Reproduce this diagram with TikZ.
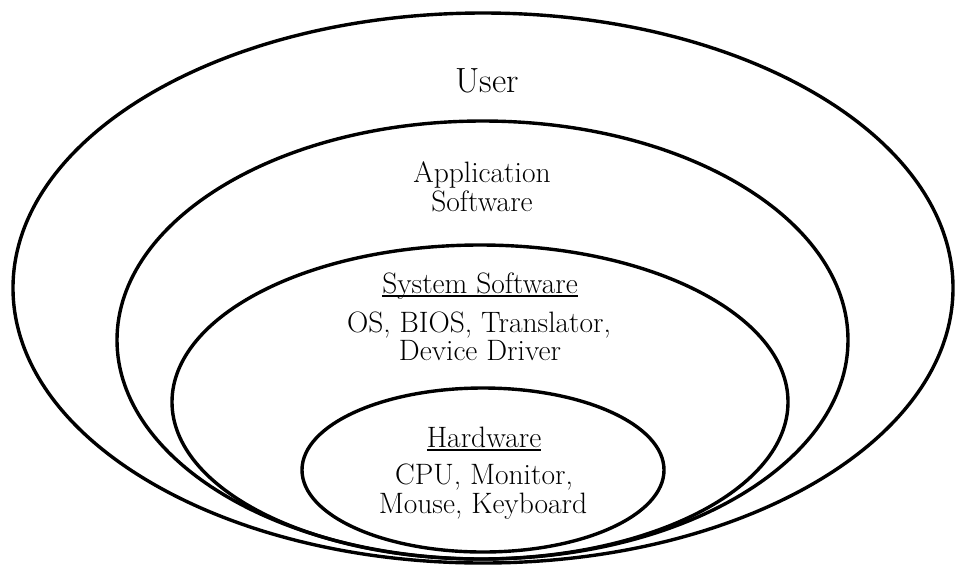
\documentclass[tikz,border=0pt]{standalone}
\newcommand{\myul}[1]{\setbox0\hbox{#1}\rlap{\rule[-3.8pt]{\wd0}{1.4pt}}\box0}
\tikzset{
  layer/.style={draw=black, line width=3.4pt},
  lbl/.style={anchor=base, inner sep=0pt, font=\fontsize{29.5}{33}\selectfont},
  ttl/.style={anchor=base, inner sep=0pt, font=\fontsize{35}{39}\selectfont}
}
\begin{document}
\begin{tikzpicture}[x=1pt,y=-1pt]
\useasboundingbox (0,0) rectangle (955,566);
\fill[white] (0,0) rectangle (955,566);
% ellipses
\draw[layer] (483,288) ellipse [x radius=470, y radius=275];
\draw[layer] (482.5,340) ellipse [x radius=365.5, y radius=219];
\draw[layer] (480,402) ellipse [x radius=308, y radius=157];
\draw[layer] (483,470) ellipse [x radius=181, y radius=82];
% texts
\node[ttl] (user) at (487,92) {User};
\node[lbl] (app1) at (482,182) {Application};
\node[lbl] (app2) at (482,211) {Software};
\node[lbl] (sys) at (480,293) {\myul{System Software}};
\node[lbl] (sys1) at (479,332) {OS, BIOS, Translator,};
\node[lbl] (sys2) at (480,360) {Device Driver};
\node[lbl] (hw) at (484,447) {\myul{Hardware}};
\node[lbl] (hw1) at (484,484) {CPU, Monitor,};
\node[lbl] (hw2) at (483,513) {Mouse, Keyboard};
\end{tikzpicture}
\end{document}
